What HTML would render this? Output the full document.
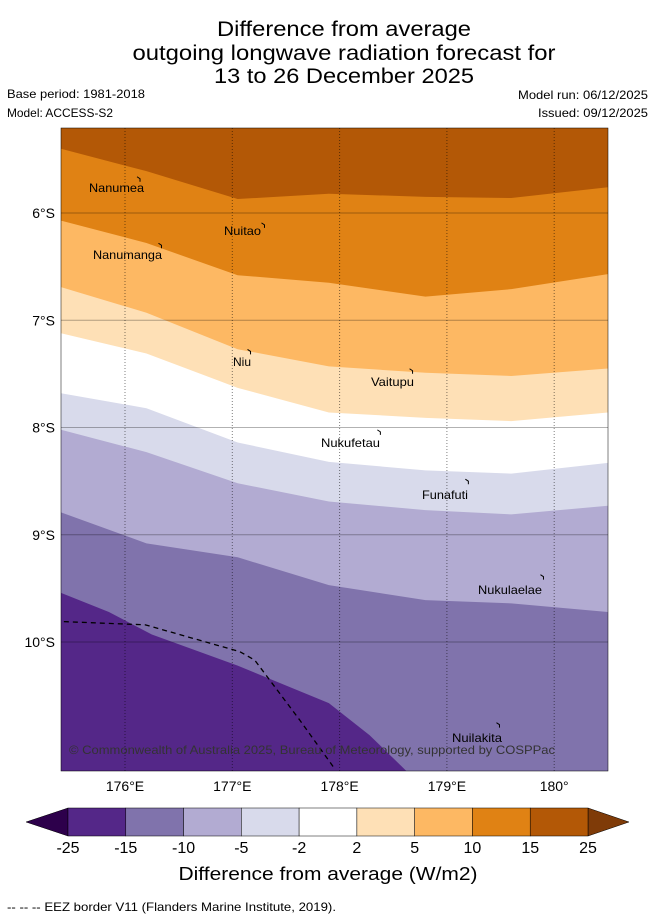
<!DOCTYPE html>
<html><head><meta charset="utf-8"><style>
body{margin:0;background:#fff;font-family:"Liberation Sans",sans-serif}
svg text{font-family:"Liberation Sans",sans-serif}
</style></head><body>
<svg width="655" height="919" viewBox="0 0 655 919">
<text x="344" y="36" font-size="21" text-anchor="middle" textLength="254" lengthAdjust="spacingAndGlyphs">Difference from average</text>
<text x="344" y="60" font-size="21" text-anchor="middle" textLength="423" lengthAdjust="spacingAndGlyphs">outgoing longwave radiation forecast for</text>
<text x="344" y="83" font-size="21" text-anchor="middle" textLength="260" lengthAdjust="spacingAndGlyphs">13 to 26 December 2025</text>
<text x="7" y="98" font-size="12" textLength="138" lengthAdjust="spacingAndGlyphs">Base period: 1981-2018</text>
<text x="7" y="117" font-size="12" textLength="106" lengthAdjust="spacingAndGlyphs">Model: ACCESS-S2</text>
<text x="648" y="99" font-size="12" text-anchor="end" textLength="130" lengthAdjust="spacingAndGlyphs">Model run: 06/12/2025</text>
<text x="648" y="117" font-size="12" text-anchor="end" textLength="110" lengthAdjust="spacingAndGlyphs">Issued: 09/12/2025</text>
<defs><clipPath id="mc"><rect x="61" y="128" width="547" height="643"/></clipPath></defs>
<g id="map" clip-path="url(#mc)"></g>
<g id="axes"></g>
<g id="cbar"></g>
<text x="328" y="880" font-size="18" text-anchor="middle" textLength="299" lengthAdjust="spacingAndGlyphs">Difference from average (W/m2)</text>
<text x="7" y="911" font-size="12" textLength="329" lengthAdjust="spacingAndGlyphs">-- -- -- EEZ border V11 (Flanders Marine Institute, 2019).</text>
</svg>
<script>
const lons=[175.4,176.2,177.05,177.9,178.8,179.6,180.5];
const b1=[5.40,5.61,5.87,5.82,5.85,5.86,5.76];
const b2=[6.07,6.28,6.58,6.65,6.78,6.71,6.57];
const b3=[6.69,6.93,7.27,7.43,7.49,7.52,7.45];
const b4=[7.12,7.31,7.63,7.86,7.91,7.94,7.86];
const b5=[7.68,7.82,8.14,8.32,8.40,8.43,8.33];
const b6=[8.02,8.23,8.52,8.69,8.77,8.81,8.73];
const b7=[8.79,9.08,9.21,9.47,9.61,9.64,9.72];
const lons8=[175.4,175.85,176.25,177.05,177.9,178.28,178.62];
const b8=[9.54,9.72,9.93,10.22,10.57,10.87,11.20];
const eezLon=[175.43,176.19,177.07,177.21,177.63,177.96];
const eezLat=[9.81,9.84,10.09,10.17,10.73,11.19];
const lonTicks=[176,177,178,179,180];
const latTicks=[6,7,8,9,10];
const cbLevels=[-25,-15,-10,-5,-2,2,5,10,15,25];
const cbColors=['#542788','#8073ac','#b2abd2','#d8daeb','#ffffff','#fee0b6','#fdb863','#e08214','#b35806'];
const islands=[["Nanumea",176.14,5.69,89,192,55],["Nuitao",177.30,6.12,224,235,37],["Nanumanga",176.34,6.31,93,259,69],["Niu",177.17,7.30,233,366,18],["Vaitupu",178.68,7.48,371,386,43],["Nukufetau",178.38,8.05,321,447,59],["Funafuti",179.20,8.51,422,499,46],["Nukulaelae",179.90,9.40,478,594,64],["Nuilakita",179.49,10.78,452,742,50]];
const X=l=>125+(l-176)*107.3, Y=l=>213+(l-6)*107.25;
const NS="http://www.w3.org/2000/svg";
function mk(t,a,p){const e=document.createElementNS(NS,t);for(const k in a)e.setAttribute(k,a[k]);p.appendChild(e);return e;}
const map=document.getElementById('map');
const r=mk('rect',{x:61,y:128,width:547,height:643,fill:'#b35806'},map);


const bands=[[b1,'#e08214','band-10-15'],[b2,'#fdb863','band-5-10'],[b3,'#fee0b6','band-2-5'],[b4,'#ffffff','band-neutral'],[b5,'#d8daeb','band-neg2-neg5'],[b6,'#b2abd2','band-neg5-neg10'],[b7,'#8073ac','band-neg10-neg15']];
bands.forEach(([b,c,n])=>{
 let d='M'+lons.map((l,i)=>X(l)+','+Y(b[i])).join(' L')+' L620,800 L50,800 Z';
 const p=mk('path',{d:d,fill:c},map);
 
 
});
let d8='M'+lons8.map((l,i)=>X(l)+','+Y(b8[i])).join(' L')+' L'+X(lons8[6])+',800 L50,800 Z';
const p8=mk('path',{d:d8,fill:'#542788'},map);


latTicks.forEach(t=>{const l=mk('line',{x1:61,x2:608,y1:Y(t),y2:Y(t),stroke:'#000','stroke-opacity':0.3,'stroke-width':1},map);

});
lonTicks.forEach(t=>{const l=mk('line',{x1:X(t),x2:X(t),y1:128,y2:771,stroke:'#000','stroke-opacity':0.5,'stroke-dasharray':'1,2'},map);

});
const ez=mk('path',{d:'M'+eezLon.map((l,i)=>X(l)+','+Y(eezLat[i])).join(' L'),fill:'none',stroke:'#000','stroke-width':1.3,'stroke-dasharray':'5,4'},map);


islands.forEach(([n,lo,la,tx,ty,tw])=>{
 const s=mk('path',{d:`M${X(lo)-3},${Y(la)-3} l3,2 l0,3`,fill:'none',stroke:'#000','stroke-width':1},map);
 
 
 const t=mk('text',{x:tx,y:ty,'font-size':12,fill:'#000',textLength:tw,lengthAdjust:'spacingAndGlyphs'},map);t.textContent=n;
 
 
});
const cp=mk('text',{x:69,y:754,'font-size':12,fill:'#333',textLength:486,lengthAdjust:'spacingAndGlyphs'},map);cp.textContent='© Commonwealth of Australia 2025, Bureau of Meteorology, supported by COSPPac';


const ax=document.getElementById('axes');
const fr=mk('rect',{x:61,y:128,width:547,height:643,fill:'none',stroke:'#000','stroke-width':0.5},ax);


lonTicks.forEach(t=>{const e=mk('text',{x:X(t),y:791,'font-size':14,'text-anchor':'middle'},ax);e.textContent=t===180?'180°':t+'°E';

});
latTicks.forEach(t=>{const e=mk('text',{x:55,y:Y(t)+5,'font-size':14,'text-anchor':'end'},ax);e.textContent=t+'°S';

});
const cb=document.getElementById('cbar');
const cx0=68,cw=520/9,cy=808,ch=28;
const t1=mk('polygon',{points:`${cx0},${cy} 26,${cy+ch/2} ${cx0},${cy+ch}`,fill:'#2d004b',stroke:'#000','stroke-width':0.5},cb);


const t2=mk('polygon',{points:`588,${cy} 629,${cy+ch/2} 588,${cy+ch}`,fill:'#7f3b08',stroke:'#000','stroke-width':0.5},cb);


cbColors.forEach((c,i)=>{const e=mk('rect',{x:cx0+i*cw,y:cy,width:cw,height:ch,fill:c,stroke:'#000','stroke-width':0.5},cb);

});
cbLevels.forEach((v,i)=>{const e=mk('text',{x:cx0+i*cw,y:853,'font-size':16,'text-anchor':'middle'},cb);e.textContent=v;

});
</script>
</body></html>
